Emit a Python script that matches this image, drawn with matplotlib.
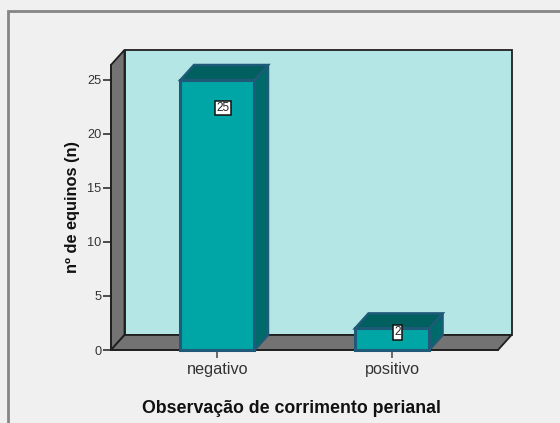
import matplotlib
matplotlib.use("Agg")
import matplotlib.pyplot as plt
from matplotlib.lines import Line2D
from matplotlib.patches import Polygon

categories = ["negativo", "positivo"]
counts = [25, 2]
y_ticks = [0, 5, 10, 15, 20, 25]
x_label = "Observação de corrimento perianal"
y_label = "nº de equinos (n)"

W, H = 560, 423
plt.rcParams["font.family"] = ["Liberation Sans", "DejaVu Sans"]
fig = plt.figure(figsize=(W / 100, H / 100), dpi=100, facecolor="#f0f0f0")

# chart frame: only left and top edges are visible in the crop
fig.add_artist(Line2D([7.5 / W, 7.5 / W, 1], [0, 1 - 11.5 / H, 1 - 11.5 / H],
                      transform=fig.transFigure, color="#858585", lw=2, zorder=-1,
                      solid_joinstyle="miter"))

L, R, T, B = 111, 498, 80, 350
ax = fig.add_axes([L / W, 1 - B / H, (R - L) / W, (B - T) / H])
ax.patch.set_visible(False)
ax.set_xlim(-0.61, 1.607)
ax.set_ylim(0, 25)

dx = 13.5 / (R - L) * 2.217
dy = 15 / (B - T) * 25
x0, x1 = ax.get_xlim()
ymax = 26.4
edge = "#1f1f1f"

def poly(pts, fc, ec=edge, lw=1.3, z=1):
    ax.add_patch(Polygon(pts, closed=True, fc=fc, ec=ec, lw=lw, zorder=z, clip_on=False, joinstyle="miter"))

poly([(x0 + dx, dy), (x1 + dx, dy), (x1 + dx, ymax + dy), (x0 + dx, ymax + dy)], "#b4e6e6")
poly([(x0, 0), (x0 + dx, dy), (x0 + dx, ymax + dy), (x0, ymax)], "#737373")
poly([(x0, 0), (x1, 0), (x1 + dx, dy), (x0 + dx, dy)], "#737373")

bar_w = 0.424
front, top, side, bar_edge = "#00a5a5", "#005f5f", "#006a6a", "#1f5a78"
for i, v in enumerate(counts):
    a, b = i - bar_w / 2, i + bar_w / 2
    poly([(b, 0), (b + dx, dy), (b + dx, v + dy), (b, v)], side, bar_edge, 1.8, 3)
    poly([(a, v), (b, v), (b + dx, v + dy), (a + dx, v + dy)], top, bar_edge, 1.8, 3)
    poly([(a, 0), (b, 0), (b, v), (a, v)], front, bar_edge, 2.2, 4)

label_y = [22.4, 1.65]
for i, v in enumerate(counts):
    ax.text(i + 0.03, label_y[i], str(v), ha="center", va="center", fontsize=8.5, color="#222222", zorder=6,
            bbox=dict(boxstyle="square,pad=0.12", fc="white", ec="#111111", lw=1.1))

for s in ("top", "right"):
    ax.spines[s].set_visible(False)
ax.spines["left"].set_bounds(0, ymax)
for s in ("left", "bottom"):
    ax.spines[s].set_color(edge)
    ax.spines[s].set_linewidth(1.2)
    ax.spines[s].set_zorder(2)
ax.set_xticks(range(len(categories)), categories)
ax.set_yticks(y_ticks)
ax.tick_params(axis="y", length=5.8, width=1.1, color=edge, labelsize=9.2, labelcolor="#333333", pad=1)
ax.tick_params(axis="x", length=5.8, width=1.1, color="#444444", labelsize=11.7, labelcolor="#333333", pad=3)
ax.set_xlabel(x_label, fontsize=12.8, fontweight="bold", color="#111111", va="center")
ax.xaxis.set_label_coords((291 - L) / (R - L), -(408 - B) / (B - T))
ax.set_ylabel(y_label, fontsize=11.8, fontweight="bold", color="#111111", va="center")
ax.yaxis.set_label_coords((72 - L) / (R - L), (B - 207) / (B - T))

fig.savefig("out.png", dpi=100, facecolor=fig.get_facecolor())
